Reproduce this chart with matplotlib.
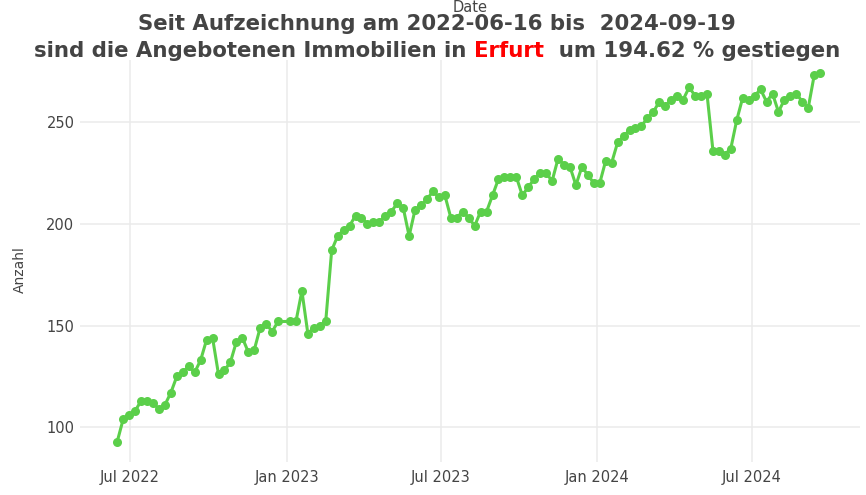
import matplotlib
matplotlib.use("Agg")
import matplotlib.pyplot as plt
import matplotlib.dates as mdates
import pandas as pd

# ---- data ----
start_date = "2022-06-16"
end_date = "2024-09-19"
missing_dates = ["2022-12-29"]
dates = pd.date_range(start_date, end_date, freq="7D").drop(pd.to_datetime(missing_dates))

values = [
    93, 104, 106, 108, 113, 113, 112, 109, 111, 117,
    125, 127, 130, 127, 133, 143, 144, 126, 128, 132,
    142, 144, 137, 138, 149, 151, 147, 152,
    152, 152, 167, 146, 149, 150, 152,
    187, 194, 197, 199, 204, 203, 200, 201, 201, 204,
    206, 210, 208, 194, 207, 209, 212, 216, 213, 214,
    203, 203, 206, 203, 199, 206, 206, 214, 222, 223,
    223, 223, 214, 218, 222, 225, 225, 221, 232, 229,
    228, 219, 228, 224, 220, 220, 231, 230, 240, 243,
    246, 247, 248, 252, 255, 260, 258, 261, 263, 261,
    267, 263, 263, 264, 236, 236, 234, 237, 251, 262,
    261, 263, 266, 260, 264, 255, 261, 263, 264, 260,
    257, 273, 274,
]

y_ticks = [100, 150, 200, 250]
x_tick_dates = ["2022-07-01", "2023-01-01", "2023-07-01", "2024-01-01", "2024-07-01"]
x_tick_labels = ["Jul 2022", "Jan 2023", "Jul 2023", "Jan 2024", "Jul 2024"]

city = "Erfurt"
title_line1 = "Seit Aufzeichnung am 2022-06-16 bis  2024-09-19"
title_pre = "sind die Angebotenen Immobilien in "
title_post = "  um 194.62 % gestiegen"

# ---- figure ----
W, H = 866, 495
fig = plt.figure(figsize=(W / 100, H / 100), dpi=100)
left_px, right_px, top_px, bottom_px = 80, 860, 60, 462
ax = fig.add_axes([left_px / W, 1 - bottom_px / H, (right_px - left_px) / W, (bottom_px - top_px) / H])

green = "#5bcf4a"
ax.plot(pd.to_datetime(dates), values, color=green, lw=2.2, marker="o", ms=6.5,
        markeredgewidth=0, zorder=3)

ref = mdates.date2num(pd.Timestamp("2022-07-01"))
px_per_day = 0.851
ax.set_xlim(ref + (left_px - 130) / px_per_day, ref + (right_px - 130) / px_per_day)
px_per_unit = 2.035
ax.set_ylim(100 - (bottom_px - 427.3) / px_per_unit, 100 + (427.3 - top_px) / px_per_unit)

ax.set_yticks(y_ticks)
ax.set_xticks(pd.to_datetime(x_tick_dates))
ax.set_xticklabels(x_tick_labels)
for s in ax.spines.values():
    s.set_visible(False)
ax.grid(True, color="#ebebeb", lw=1.1)
ax.set_axisbelow(True)
ax.tick_params(length=0, colors="#444444", labelsize=10.5, pad=6)
ax.tick_params(axis="y", pad=4)
for lab in ax.get_xticklabels() + ax.get_yticklabels():
    lab.set_fontfamily("DejaVu Sans")

fig.text(20 / W, 1 - 270 / H, "Anzahl", rotation=90, ha="center", va="center",
         fontsize=10, color="#444444", family="DejaVu Sans")
fig.text(470 / W, 1 - 7 / H, "Date", ha="center", va="center",
         fontsize=10.5, color="#444444", family="DejaVu Sans")

# ---- title: fit line 2 to the reference width, centre both lines ----
fig.canvas.draw()
r = fig.canvas.get_renderer()
base = 14.5
tfont = dict(fontweight="bold", color="#444444", family="DejaVu Sans")
probe = fig.text(0, 0, title_pre + city + title_post, fontsize=base, **tfont)
w_probe = probe.get_window_extent(r).width
probe.remove()
tsize = base * 807 / w_probe
cx = 437

fig.text(cx / W, 1 - 24 / H, title_line1, ha="center", va="center", fontsize=tsize, **tfont)

y2 = 1 - 51 / H
t1 = fig.text(0, y2, title_pre, ha="left", va="center", fontsize=tsize, **tfont)
t2 = fig.text(0, y2, city, ha="left", va="center", fontsize=tsize,
              **{**tfont, "color": "red"})
t3 = fig.text(0, y2, title_post, ha="left", va="center", fontsize=tsize, **tfont)
w1 = t1.get_window_extent(r).width
w2 = t2.get_window_extent(r).width
w3 = t3.get_window_extent(r).width
x0 = cx - (w1 + w2 + w3) / 2
t1.set_x(x0 / W)
t2.set_x((x0 + w1) / W)
t3.set_x((x0 + w1 + w2) / W)

fig.savefig("out.png", dpi=100)
